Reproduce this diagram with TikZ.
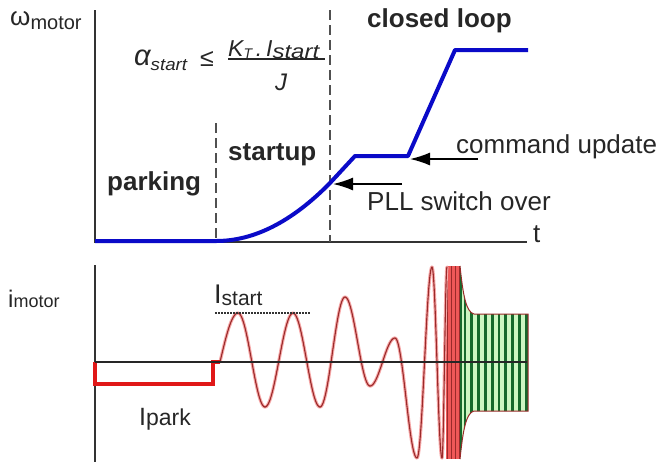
\documentclass[tikz,border=0pt]{standalone}
\usepackage{fontspec}
\setmainfont{Liberation Sans}
\usetikzlibrary{arrows.meta}
\newcommand{\dsub}[3]{\raisebox{-#1}{\fontsize{#2}{#2}\selectfont #3}}
\definecolor{txt}{HTML}{262626}
\definecolor{curveblue}{HTML}{0A0AC8}
\definecolor{axisgray}{HTML}{333333}
\definecolor{dashgray}{HTML}{505050}
\definecolor{parkred}{HTML}{E01818}
\definecolor{wavedark}{HTML}{9A2A2A}
\definecolor{wavepink}{HTML}{F6A8A8}
\definecolor{burstred}{HTML}{F05858}
\definecolor{palegreen}{HTML}{CDF7C2}
\definecolor{stripegreen}{HTML}{16692C}
\begin{document}
\begin{tikzpicture}[x=1pt,y=-1pt,
  lbl/.style={text=txt, inner sep=0pt, anchor=base west, font=\fontsize{26}{30}\selectfont},
  fml/.style={text=txt, inner sep=0pt, anchor=base west, font=\itshape\fontsize{22}{24}\selectfont},
  axisline/.style={draw=axisgray, line width=1.8pt},
  phase/.style={draw=dashgray, line width=1.9pt, dash pattern=on 10pt off 5pt},
  speed/.style={draw=curveblue, line width=4pt, line join=round},
  ptr/.style={draw=black, line width=1.5pt, -{Latex[length=20pt,width=13pt]}},
  parkline/.style={draw=parkred, line width=4.2pt, line join=miter},
  wavehalo/.style={draw=wavepink, line width=3.2pt, line cap=round},
  wavecore/.style={draw=wavedark, line width=1.1pt, line cap=round},
  levelline/.style={draw=axisgray, line width=1.5pt, dash pattern=on 1.5pt off 1.5pt}]
\useasboundingbox (0,0) rectangle (660,467);

% ---------------- top plot: speed ----------------
\coordinate (wTop) at (95,10);
\coordinate (wOrig) at (95,242);
\coordinate (wEnd) at (527,242);
\draw[axisline] (wTop) -- (wOrig) -- (wEnd);

\coordinate (d1top) at (216,123);
\coordinate (d1bot) at (216,242);
\coordinate (d2top) at (330,10);
\coordinate (d2bot) at (330,242);
\draw[phase] (d1top) -- (d1bot);
\draw[phase] (d2top) -- (d2bot);

\coordinate (s0) at (95,241);
\coordinate (s1) at (216,241);
\coordinate (pll) at (330,183);
\coordinate (s2) at (355,156);
\coordinate (cmd) at (408,156);
\coordinate (s3) at (455,50);
\coordinate (s4) at (528,50);
\draw[speed] (s0) -- (s1) .. controls (254,241) and (292,221.7) .. (pll) -- (s2) -- (cmd) -- (s3) -- (s4);

\coordinate (pllTail) at (402,184);
\coordinate (pllTip) at (333,184);
\coordinate (cmdTail) at (478,159);
\coordinate (cmdTip) at (410,159);
\draw[ptr] (pllTail) -- (pllTip);
\draw[ptr] (cmdTail) -- (cmdTip);

\node[lbl] (omega) at (10,25) {ω\dsub{4pt}{20}{motor}};
\node[lbl] (tlabel) at (533,242) {t};
\node[lbl, font=\bfseries\fontsize{26}{30}\selectfont] (closed) at (367,27) {closed loop};
\node[lbl, font=\bfseries\fontsize{26}{30}\selectfont] (startup) at (228,160) {startup};
\node[lbl, font=\bfseries\fontsize{26}{30}\selectfont] (parking) at (107,190) {parking};
\node[lbl] (cmdtext) at (456,153) {command update};
\node[lbl] (plltext) at (367,210) {PLL switch over};

% formula
\node[fml, font=\itshape\fontsize{29}{30}\selectfont] (alpha) at (134,65) {α\dsub{5pt}{17}{\scalebox{1.1}[1]{start}}};
\node[text=txt, inner sep=0pt, font=\fontsize{25}{25}\selectfont] (leq) at (207,59) {≤};
\node[fml, font=\itshape\fontsize{23}{24}\selectfont] (numer) at (228,56) {K\dsub{2pt}{14}{T}\,.\,I\dsub{2pt}{20}{\scalebox{1.2}[1]{start}}};
\coordinate (barL) at (228,59);
\coordinate (barR) at (325,59);
\draw[draw=txt, line width=1.1pt] (barL) -- (barR);
\node[fml, font=\itshape\fontsize{24}{24}\selectfont] (denom) at (275,90) {J};

% ---------------- bottom plot: current ----------------
\coordinate (iTop) at (95,265);
\coordinate (iBot) at (95,462);
\draw[axisline] (iTop) -- (iBot);

% burst region (dense oscillation)
\fill[burstred] (446,266) rectangle (460,459);
\foreach \xx in {447,451.5,455.5,459.5}{
  \draw[wavedark, line width=0.8pt] (\xx,266) -- (\xx,459);
}
% green steady-state region
\path[fill=palegreen] (460,266) .. controls (463,295) and (466,312) .. (474,314) -- (528,314) -- (528,411) -- (474,411) .. controls (466,413) and (463,430) .. (460,459) -- cycle;
\begin{scope}
  \clip (460,266) .. controls (463,295) and (466,312) .. (474,314) -- (528,314) -- (528,411) -- (474,411) .. controls (466,413) and (463,430) .. (460,459) -- cycle;
  \foreach \k in {0,...,9}{
    \draw[stripegreen, line width=2.8pt] ({465+6.8*\k},260) -- ({465+6.8*\k},465);
  }
  \draw[stripegreen, line width=2.4pt] (461,260) -- (461,465);
\end{scope}
\draw[wavedark, line width=1pt] (460,266) .. controls (463,295) and (466,312) .. (474,314) -- (528,314) -- (528,411) -- (474,411) .. controls (466,413) and (463,430) .. (460,459);

% sine wave
\foreach \sty in {wavehalo,wavecore}{
  \draw[\sty] plot[domain=0:1,samples=16,variable=\t] ({220+18*\t},{362-49*sin(90*\t)});
  \foreach \xa/\ya/\xb/\yb in {238/313/265/407, 265/407/293/313, 293/313/320/407, 320/407/345/297, 345/297/370/386, 370/386/395/338, 395/338/417/458, 417/458/432/267, 432/267/442/458, 442/458/447/267}{
    \draw[\sty] plot[domain=0:1,samples=24,variable=\t] ({\xa+(\xb-\xa)*\t},{(\ya+\yb)/2+(\ya-\yb)/2*cos(180*\t)});
  }
}

% parking current
\coordinate (p0) at (95,362);
\coordinate (p1) at (95,384);
\coordinate (p2) at (213,384);
\coordinate (p3) at (213,362);
\coordinate (p4) at (220,362);
\draw[parkline] (p0) -- (p1) -- (p2) -- (p3) -- (p4);

% zero line
\coordinate (zL) at (95,362);
\coordinate (zR) at (527,362);
\draw[draw=black!85, line width=1.5pt] (zL) -- (zR);

% I_start level
\coordinate (lvL) at (215,313);
\coordinate (lvR) at (310,313);
\draw[levelline] (lvL) -- (lvR);

\node[lbl, font=\fontsize{24}{26}\selectfont] (imotor) at (8,307) {i\dsub{0pt}{18}{motor}};
\node[lbl, font=\fontsize{27}{28}\selectfont] (istart) at (214,303) {I\dsub{2pt}{21}{start}};
\node[lbl, font=\fontsize{25}{26}\selectfont] (ipark) at (139,425) {I\dsub{0pt}{23}{park}};
\end{tikzpicture}
\end{document}
